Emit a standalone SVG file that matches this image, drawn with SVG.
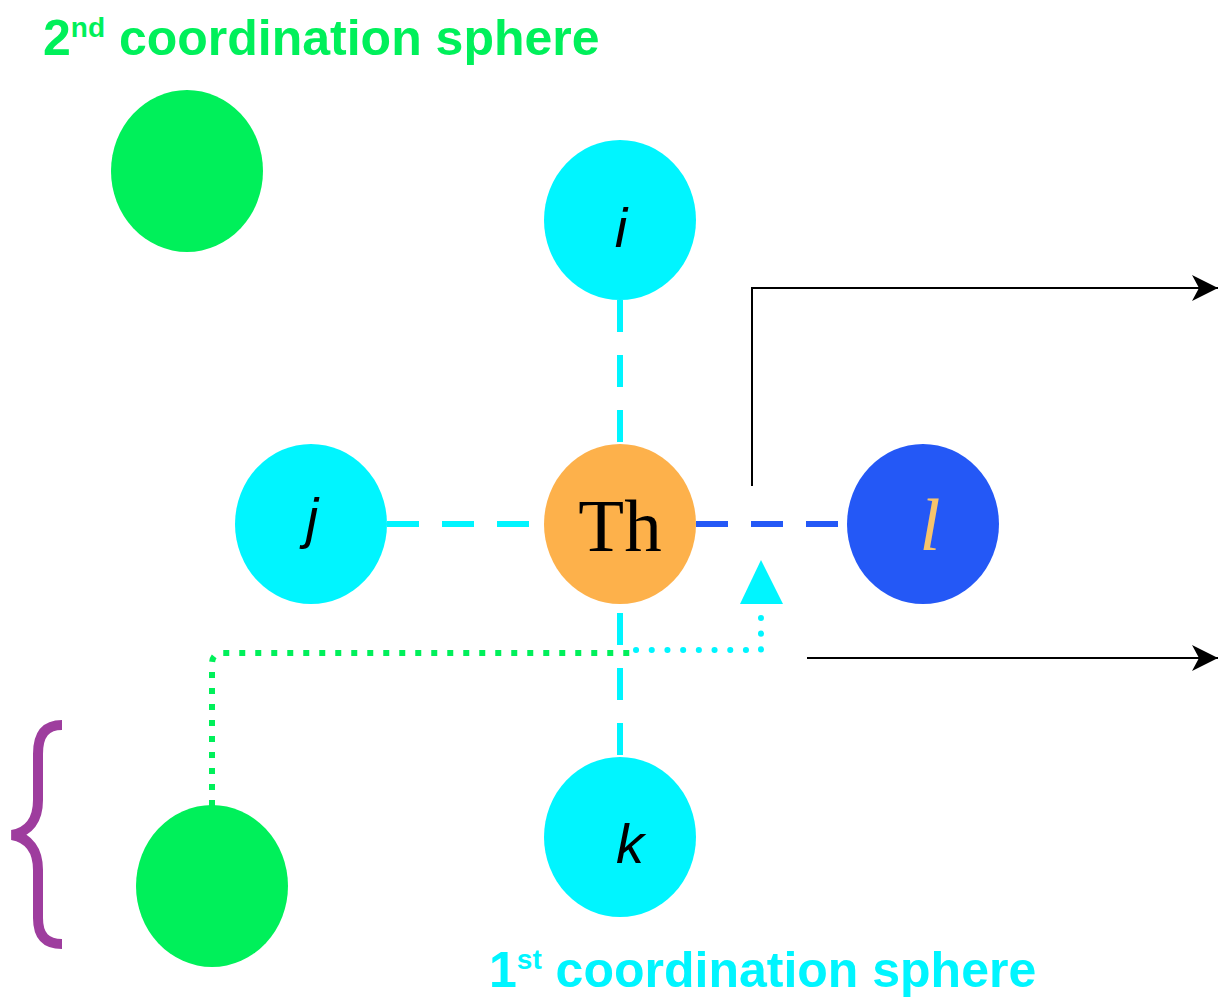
<svg xmlns="http://www.w3.org/2000/svg" width="1222" height="998" viewBox="0 0 1222 998">
<style>
.cy{fill:#00F5FF}
.gr{fill:#00F05A}
.lbl{font-family:"Liberation Sans",Arial,sans-serif;font-style:italic;font-size:56px;fill:#000;text-anchor:middle}
.title{font-family:"Liberation Sans",Arial,sans-serif;font-weight:bold;font-size:50px}
.dash{fill:none;stroke-width:6;stroke-dasharray:32 23}
.blk{fill:none;stroke:#000;stroke-width:2}
</style>
<defs>
<marker id="arr" viewBox="0 0 30 30" refX="28" refY="15" markerWidth="30" markerHeight="30" markerUnits="userSpaceOnUse" orient="auto">
<path d="M28,15 L2,2 L9,15 L2,28 Z" fill="#000"/>
</marker>
</defs>
<rect width="1222" height="998" fill="#fff"/>
<g id="connectors">
<path class="dash" d="M620,300 V444" stroke="#00F5FF"/>
<path class="dash" d="M387,524 H544" stroke="#00F5FF"/>
<path class="dash" d="M696,524 H847" stroke="#2458F6"/>
<path class="dash" d="M620,604 V757" stroke="#00F5FF" stroke-dashoffset="46"/>
<path d="M212,806 V664 Q212,653 223,653 H630" fill="none" stroke="#00F05A" stroke-width="6" stroke-dasharray="6 10"/>
<path d="M636,650 H761 V608" fill="none" stroke="#00F5FF" stroke-width="6" stroke-linecap="round" stroke-dasharray="0.1 15.6"/>
<path d="M761,560 L783,604 L740,604 Z" fill="#00F5FF"/>
<path class="blk" d="M752,486 V288 H1218" marker-end="url(#arr)"/>
<path class="blk" d="M807,658 H1218" marker-end="url(#arr)"/>
</g>
<g id="green-top"><ellipse class="gr" cx="187" cy="171" rx="76" ry="81"/></g>
<g id="node-i"><ellipse class="cy" cx="620" cy="220" rx="76" ry="80"/><text class="lbl" x="621" y="247">i</text></g>
<g id="node-j"><ellipse class="cy" cx="311" cy="524" rx="76" ry="80"/><text class="lbl" x="312" y="537">j</text></g>
<g id="node-th"><ellipse cx="620" cy="524" rx="76" ry="80" fill="#FDB14B"/><text x="620" y="551" font-family="'Liberation Serif','Times New Roman',serif" font-size="75" text-anchor="middle" fill="#000">Th</text></g>
<g id="node-l"><ellipse cx="923" cy="524" rx="76" ry="80" fill="#2458F6"/><text x="930" y="550" font-family="'Liberation Serif','Times New Roman',serif" font-style="italic" font-size="75" text-anchor="middle" fill="#F7C46C">l</text></g>
<g id="node-k"><ellipse class="cy" cx="620" cy="837" rx="76" ry="80"/><text class="lbl" x="630" y="863">k</text></g>
<g id="green-bottom"><ellipse class="gr" cx="212" cy="886" rx="76" ry="81"/></g>
<g id="brace"><path d="M62,725 C46,725 38,734 38,754 L38,800 C38,820 29,832 12,835 C29,838 38,850 38,870 L38,918 C38,936 46,944 62,944" fill="none" stroke="#9E3D9E" stroke-width="10"/></g>
<g id="title-2nd"><text class="title" x="43" y="55" fill="#00F05A">2<tspan font-size="28" dy="-18">nd</tspan><tspan dy="18"> coordination sphere</tspan></text></g>
<g id="title-1st"><text class="title" x="489" y="987" fill="#00F5FF">1<tspan font-size="28" dy="-18">st</tspan><tspan dy="18"> coordination sphere</tspan></text></g>
</svg>
